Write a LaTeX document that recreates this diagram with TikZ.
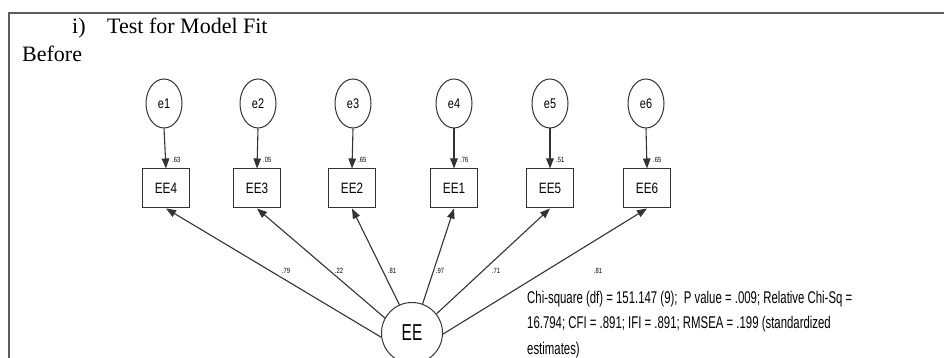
\documentclass[tikz,border=0pt]{standalone}
\usepackage{fontspec}
\setmainfont{Liberation Serif}
\newfontfamily\amos[FakeStretch=0.78]{Liberation Sans}
\newfontfamily\amosn[FakeStretch=0.67]{Liberation Sans}
\usetikzlibrary{arrows.meta,shapes.geometric}
\definecolor{ln}{HTML}{333333}
\tikzset{
  err/.style={draw=ln, line width=1pt, ellipse, minimum width=36pt, minimum height=49pt, inner sep=0pt, font=\amos\fontsize{14}{14}\selectfont},
  obs/.style={draw=ln, line width=1pt, rectangle, minimum width=47pt, minimum height=39pt, inner sep=0pt, font=\amos\fontsize{15}{15}\selectfont},
  lat/.style={draw=ln, line width=1pt, circle, minimum size=61pt, inner sep=0pt, font=\amosn\fontsize{23}{23}\selectfont},
  conn/.style={draw=ln, line width=1.1pt, -{Triangle[length=10pt,width=7.5pt]}},
  small/.style={font=\amos\fontsize{7.5}{7.5}\selectfont, inner sep=0pt},
  stat/.style={font=\amosn\fontsize{17}{17}\selectfont, inner sep=0pt, anchor=west},
  ttl/.style={font=\fontsize{22}{22}\selectfont, inner sep=0pt, anchor=base west}
}
\begin{document}
\begin{tikzpicture}[x=1pt,y=1pt]
\useasboundingbox (0,0) rectangle (944,358);
\fill[white] (0,0) rectangle (944,358);
% frame
\draw[line width=1.6pt, color=ln!80] (9,0) -- (9,345) -- (944,345);
% titles
\node[ttl] (ti) at (72,324) {i)};
\node[ttl] (tt) at (107,324) {Test for Model Fit};
\node[ttl] (tb) at (22,296) {Before};
% error terms
\node[err] (e1) at (164,254.5) {e1};
\node[err] (e2) at (258,254.5) {e2};
\node[err] (e3) at (353,254.5) {e3};
\node[err] (e4) at (454,254.5) {e4};
\node[err] (e5) at (550,254.5) {e5};
\node[err] (e6) at (646,254.5) {e6};
% observed
\node[obs] (EE4) at (166,169.5) {EE4};
\node[obs] (EE3) at (257,169.5) {EE3};
\node[obs] (EE2) at (352,169.5) {EE2};
\node[obs] (EE1) at (454,169.5) {EE1};
\node[obs] (EE5) at (550,169.5) {EE5};
\node[obs] (EE6) at (647,169.5) {EE6};
% latent
\node[lat] (EE) at (412,25) {EE};
% residual arrows
\foreach \e/\b/\v in {e1/EE4/.63, e2/EE3/.05, e3/EE2/.65, e4/EE1/.76, e5/EE5/.51, e6/EE6/.65}{
  \draw[conn] (\e.south) -- (\b.north);
  \node[small, anchor=west] (l\e) at ([xshift=6pt,yshift=9pt]\b.north) {\v};
}
% loadings
\draw[conn] (EE.188) -- (EE4.south);
\draw[conn] (EE.151) -- (EE3.south);
\draw[conn] (EE.114) -- (EE2.south);
\draw[conn] (EE.70) -- (EE1.south);
\draw[conn] (EE.38) -- (EE5.south);
\draw[conn] (EE.-2) -- (EE6.south);
\node[small] (l4) at (286,87) {.79};
\node[small] (l3) at (339,87) {.22};
\node[small] (l2) at (392,87) {.81};
\node[small] (l1) at (440,87) {.97};
\node[small] (l5) at (496,87) {.71};
\node[small] (l6) at (598,87) {.81};
% stats
\node[stat] (s1) at (527,59) {Chi-square (df) = 151.147 (9);\ \ P value = .009; Relative Chi-Sq =};
\node[stat] (s2) at (527,34) {16.794; CFI = .891; IFI = .891; RMSEA = .199 (standardized};
\node[stat] (s3) at (527,8) {estimates)};
\end{tikzpicture}
\end{document}
